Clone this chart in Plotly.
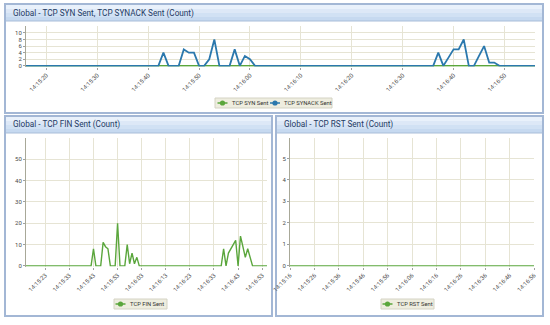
import pandas as pd
import plotly.graph_objects as go

DAY = "2024-01-01 "

# ---------------- data ----------------
top_start, top_end = "14:15:16", "14:16:56"
syn_sent = [
    0, 0, 0, 0, 0, 0, 0, 0, 0, 0,
    0, 0, 0, 0, 0, 0, 0, 0, 0, 0,
    0, 0, 0, 0, 0, 0, 0, 0, 0, 0,
    0, 0, 0, 0, 0, 0, 0, 0, 0, 0,
    0, 0, 0, 0, 0, 0, 0, 0, 0, 0,
    0, 0, 0, 0, 0, 0, 0, 0, 0, 0,
    0, 0, 0, 0, 0, 0, 0, 0, 0, 0,
    0, 0, 0, 0, 0, 0, 0, 0, 0, 0,
    0, 0, 0, 0, 0, 0, 0, 0, 0, 0,
    0, 0, 0, 0, 0, 0, 0, 0, 0, 0,
    0]
synack_sent = [
    0, 0, 0, 0, 0, 0, 0, 0, 0, 0,
    0, 0, 0, 0, 0, 0, 0, 0, 0, 0,
    0, 0, 0, 0, 0, 0, 0, 4, 0, 0,
    0, 5, 4, 4, 0, 0, 2, 8, 0, 0,
    0, 5, 0, 3, 2, 0, 0, 0, 0, 0,
    0, 0, 0, 0, 0, 0, 0, 0, 0, 0,
    0, 0, 0, 0, 0, 0, 0, 0, 0, 0,
    0, 0, 0, 0, 0, 0, 0, 0, 0, 0,
    0, 4, 0, 2.5, 5, 5, 8, 0, 0, 3,
    6, 1, 1, 0, 0, 0, 0, 0, 0, 0,
    0]

fin_start, fin_end = "14:15:15", "14:16:55"
fin_sent = [
    0, 0, 0, 0, 0, 0, 0, 0, 0, 0,
    0, 0, 0, 0, 0, 0, 0, 0, 0, 0,
    0, 0, 0, 0, 0, 0, 0, 0, 8, 0,
    0, 0, 11, 9, 8, 0, 0, 0, 20, 0,
    0, 0, 10, 1, 6, 1, 4, 0, 0, 0,
    0, 0, 0, 0, 0, 0, 0, 0, 0, 0,
    0, 0, 0, 0, 0, 0, 0, 0, 0, 0,
    0, 0, 0, 0, 0, 0, 0, 0, 0, 0,
    0, 0, 8, 0, 6, 8, 10, 12, 0, 14,
    9, 4, 8, 4, 0, 0, 0, 0, 0, 0,
    0]

rst_start, rst_end = "14:15:16", "14:16:56"
rst_sent = [
    0, 0, 0, 0, 0, 0, 0, 0, 0, 0,
    0, 0, 0, 0, 0, 0, 0, 0, 0, 0,
    0, 0, 0, 0, 0, 0, 0, 0, 0, 0,
    0, 0, 0, 0, 0, 0, 0, 0, 0, 0,
    0, 0, 0, 0, 0, 0, 0, 0, 0, 0,
    0, 0, 0, 0, 0, 0, 0, 0, 0, 0,
    0, 0, 0, 0, 0, 0, 0, 0, 0, 0,
    0, 0, 0, 0, 0, 0, 0, 0, 0, 0,
    0, 0, 0, 0, 0, 0, 0, 0, 0, 0,
    0, 0, 0, 0, 0, 0, 0, 0, 0, 0,
    0]

titles = ["Global - TCP SYN Sent, TCP SYNACK Sent (Count)",
          "Global - TCP FIN Sent (Count)",
          "Global - TCP RST Sent (Count)"]
series_names = ["TCP SYN Sent", "TCP SYNACK Sent", "TCP FIN Sent", "TCP RST Sent"]
top_tick0, fin_tick0, rst_tick0 = "14:15:20", "14:15:23", "14:15:16"
top_yticks = [0, 2, 4, 6, 8, 10]
fin_yticks = [0, 10, 20, 30, 40, 50]
rst_yticks = [0, 1, 2, 3, 4, 5]

# ---------------- styling ----------------
W, H = 550, 325
BLUE = "#2b78ad"
GREEN = "#5aa63c"
PLOTBG = "#efeee3"
GRID = "#e6e4d4"
FONT = "Roboto"


def px(x):
    return x / W


def py(y):
    return 1 - y / H


def times(start, n):
    return pd.date_range(DAY + start, periods=n, freq="s")


fig = go.Figure()

t_top = times(top_start, len(synack_sent))
fig.add_trace(go.Scatter(x=t_top, y=syn_sent, mode="lines", name=series_names[0],
                         line=dict(color=GREEN, width=1.8), xaxis="x", yaxis="y"))
fig.add_trace(go.Scatter(x=t_top, y=synack_sent, mode="lines", name=series_names[1],
                         line=dict(color=BLUE, width=1.8), xaxis="x", yaxis="y"))
fig.add_trace(go.Scatter(x=times(fin_start, len(fin_sent)), y=fin_sent, mode="lines", name=series_names[2],
                         line=dict(color=GREEN, width=1.4), xaxis="x2", yaxis="y2"))
fig.add_trace(go.Scatter(x=times(rst_start, len(rst_sent)), y=rst_sent, mode="lines", name=series_names[3],
                         line=dict(color=GREEN, width=1.4), xaxis="x3", yaxis="y3"))

tickfont = dict(family=FONT, size=6, color="#4a4a4a")


def xaxis(dom, rng, tick0, anchor):
    return dict(domain=[px(dom[0]), px(dom[1])], type="date", anchor=anchor,
                range=[DAY + rng[0], DAY + rng[1]], tick0=DAY + tick0, dtick=10000,
                tickformat="%H:%M:%S", tickangle=-45, tickfont=tickfont, automargin=False,
                showgrid=True, gridcolor=GRID, gridwidth=1, ticks="outside", ticklen=2,
                tickcolor="#a0a0a0", showline=False, zeroline=False, fixedrange=True)


def yaxis(dom, rng, vals, anchor):
    return dict(domain=[py(dom[1]), py(dom[0])], range=rng, tickvals=vals, tickfont=tickfont,
                showgrid=True, gridcolor=GRID, ticks="outside", ticklen=2, tickcolor="#a0a0a0",
                showline=True, linecolor="#a8a898", linewidth=1, zeroline=False, automargin=False,
                anchor=anchor, fixedrange=True)


fig.update_layout(
    xaxis=xaxis((26, 535), (top_start, top_end), top_tick0, "y"),
    yaxis=yaxis((26, 66.5), [-0.2, 12.1], top_yticks, "x"),
    xaxis2=xaxis((26, 267), (fin_start, fin_end), fin_tick0, "y2"),
    yaxis2=yaxis((138, 266.5), [-0.3, 60], fin_yticks, "x2"),
    xaxis3=xaxis((290, 534), (rst_start, rst_end), rst_tick0, "y3"),
    yaxis3=yaxis((138, 266.5), [-0.03, 5.95], rst_yticks, "x3"),
)

shapes = []
annotations = []

# panels
panels = [((5, 4, 543, 113), titles[0]), ((5, 116, 272, 316), titles[1]), ((276, 116, 543, 316), titles[2])]
for (x0, y0, x1, y1), title in panels:
    shapes.append(dict(type="rect", xref="paper", yref="paper", x0=px(x0), x1=px(x1), y0=py(y1), y1=py(y0),
                       line=dict(color="#a3b7d5", width=2), fillcolor="white", layer="below"))
    bar = [("#e9f1fb", 0, 4), ("#dde8f7", 4, 8), ("#d1e1f4", 8, 12), ("#c6d9f0", 12, 16)]
    for col, a, b in bar:
        shapes.append(dict(type="rect", xref="paper", yref="paper", x0=px(x0 + 1), x1=px(x1 - 1),
                           y0=py(y0 + 1 + b), y1=py(y0 + 1 + a), line=dict(width=0), fillcolor=col,
                           layer="below"))
    shapes.append(dict(type="line", xref="paper", yref="paper", x0=px(x0 + 1), x1=px(x1 - 1),
                       y0=py(y0 + 17), y1=py(y0 + 17), line=dict(color="#a9bdd9", width=1), layer="below"))
    annotations.append(dict(text=title, xref="paper", yref="paper", x=px(x0 + 6), y=py(y0 + 9),
                            xanchor="left", yanchor="middle", showarrow=False,
                            font=dict(family=FONT, size=8.2, color="#1f3b64")))

# legends (box, then line+marker+label for each entry)
legends = [((215, 98, 332, 108), [(222.5, series_names[0], GREEN), (275, series_names[1], BLUE)]),
           ((114, 299, 167, 309), [(120.5, series_names[2], GREEN)]),
           ((381, 299, 434, 309), [(387.5, series_names[3], GREEN)])]
for (x0, y0, x1, y1), items in legends:
    shapes.append(dict(type="rect", xref="paper", yref="paper", x0=px(x0), x1=px(x1), y0=py(y1), y1=py(y0),
                       line=dict(color="#d4d3c4", width=1), fillcolor="#eeeddf"))
    cy = (y0 + y1) / 2
    for cx, name, col in items:
        shapes.append(dict(type="line", xref="paper", yref="paper", x0=px(cx - 5), x1=px(cx + 5),
                           y0=py(cy), y1=py(cy), line=dict(color=col, width=1.5)))
        shapes.append(dict(type="circle", xref="paper", yref="paper", x0=px(cx - 2.6), x1=px(cx + 2.6),
                           y0=py(cy + 2.6), y1=py(cy - 2.6), line=dict(width=0), fillcolor=col))
        annotations.append(dict(text=name, xref="paper", yref="paper", x=px(cx + 7), y=py(cy),
                                xanchor="left", yanchor="middle", showarrow=False,
                                font=dict(family=FONT, size=5.8, color="#333333")))

fig.update_layout(shapes=shapes, annotations=annotations, showlegend=False)

fig.update_layout(width=W, height=H, margin=dict(l=0, r=0, t=0, b=0, pad=0, autoexpand=False),
                  autosize=False, paper_bgcolor="white", plot_bgcolor=PLOTBG, font=dict(family=FONT))

fig.write_html("out.html", post_script="document.body.style.margin='0';", config={"displayModeBar": False})
